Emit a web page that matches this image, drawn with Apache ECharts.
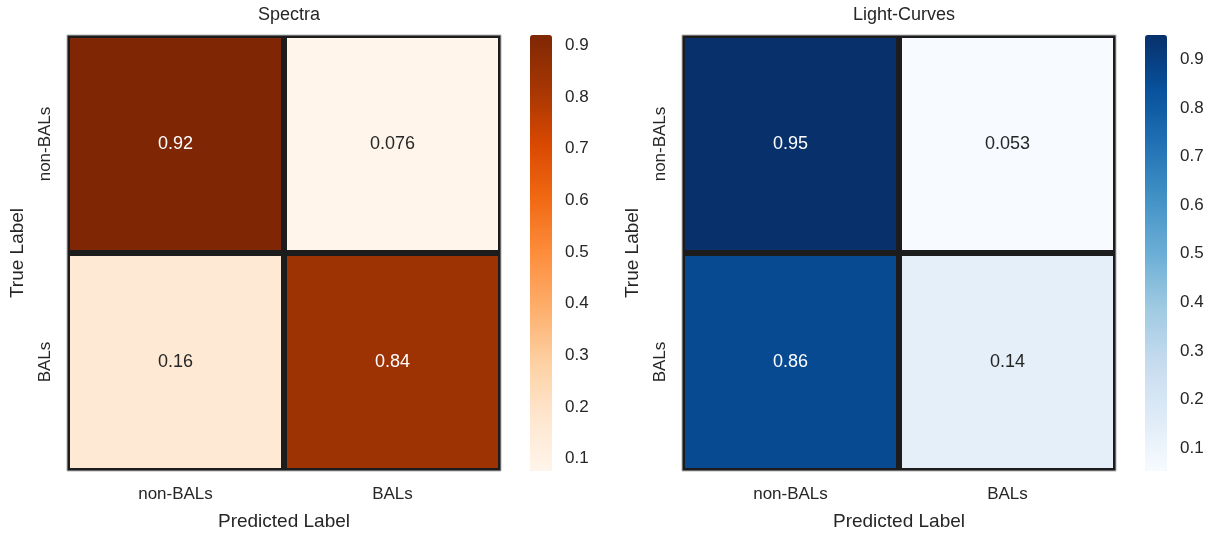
<!DOCTYPE html>
<html>
<head>
<meta charset="utf-8">
<script src="https://cdn.jsdelivr.net/npm/echarts@6/dist/echarts.min.js"></script>
<style>
  html, body { margin: 0; padding: 0; background: #ffffff; }
  #chart { width: 1219px; height: 534px; }
</style>
</head>
<body>
<div id="chart"></div>
<script>
// Confusion matrices (rows: true label, columns: predicted label), normalised per row
const categories = ['non-BALs', 'BALs'];
const spectraValues = [
  [0.92, 0.076],
  [0.16, 0.84]
];
const lightCurveValues = [
  [0.95, 0.053],
  [0.86, 0.14]
];
const spectraRange = [0.076, 0.92];
const lightCurveRange = [0.053, 0.95];
const colorbarTicks = [0.1, 0.2, 0.3, 0.4, 0.5, 0.6, 0.7, 0.8, 0.9];

const orangesRamp = ['#fff5eb', '#fee6ce', '#fdd0a2', '#fdae6b', '#fd8d3c', '#f16913', '#d94801', '#a63603', '#7f2704'];
const bluesRamp = ['#f7fbff', '#deebf7', '#c6dbef', '#9ecae1', '#6baed6', '#4292c6', '#2171b5', '#08519c', '#08306b'];

const TEXT = '#262626';
const FONT = '"Liberation Sans", Arial, sans-serif';
const FS_TICK = 17;
const FS_CELL = 18;
const FS_NAME = 19;
const FS_TITLE = 18;

function toCells(matrix) {
  const out = [];
  matrix.forEach((row, r) => row.forEach((v, c) => out.push([c, r, v])));
  return out;
}

// relative luminance used to pick annotation colour
function luminance(hex) {
  const n = parseInt(hex.slice(1), 16);
  const ch = [(n >> 16) & 255, (n >> 8) & 255, n & 255].map(v => {
    v /= 255;
    return v <= 0.03928 ? v / 12.92 : Math.pow((v + 0.055) / 1.055, 2.4);
  });
  return 0.2126 * ch[0] + 0.7152 * ch[1] + 0.0722 * ch[2];
}

function toHex(c) {
  if (c[0] === '#') return c;
  const m = c.match(/[\d.]+/g).map(Number);
  return '#' + m.slice(0, 3).map(v => Math.round(v).toString(16).padStart(2, '0')).join('');
}

function renderCell(params, api) {
  const center = api.coord([api.value(0), api.value(1)]);
  const size = api.size([1, 1]);
  const inset = 3;
  const fill = api.visual('color');
  const v = api.value(2);
  const textFill = luminance(toHex(fill)) > 0.408 ? TEXT : '#ffffff';
  return {
    type: 'rect',
    shape: {
      x: center[0] - size[0] / 2 + inset,
      y: center[1] - size[1] / 2 + inset,
      width: size[0] - 2 * inset,
      height: size[1] - 2 * inset
    },
    style: { fill: fill },
    textContent: {
      style: { text: String(v), fill: textFill, fontSize: FS_CELL, fontFamily: FONT }
    },
    textConfig: { position: 'inside' }
  };
}

const panels = [
  { title: 'Spectra', left: 67, cbLeft: 530, values: spectraValues, range: spectraRange, ramp: orangesRamp },
  { title: 'Light-Curves', left: 682, cbLeft: 1145, values: lightCurveValues, range: lightCurveRange, ramp: bluesRamp }
];
const TOP = 35, W = 434, H = 436, CBW = 22;

const option = {
  backgroundColor: '#ffffff',
  animation: false,
  title: [],
  grid: [],
  xAxis: [],
  yAxis: [],
  visualMap: [],
  series: []
};

panels.forEach((p, i) => {
  option.title.push({
    text: p.title, left: p.left + W / 2, top: 1, textAlign: 'center',
    textStyle: { color: TEXT, fontSize: FS_TITLE, fontWeight: 'normal', fontFamily: FONT }
  });
  // heatmap grid
  option.grid.push({
    left: p.left, top: TOP, width: W, height: H, outerBoundsMode: 'none',
    show: true, backgroundColor: '#1c1c1c', borderColor: '#b5b5b5', borderWidth: 1
  });
  // colorbar tick grid
  option.grid.push({ left: p.cbLeft, top: TOP, width: CBW, height: H, outerBoundsMode: 'none' });

  const g = i * 2;
  option.xAxis.push({
    type: 'category', data: categories, gridIndex: g,
    name: 'Predicted Label', nameLocation: 'middle', nameGap: 41,
    nameTextStyle: { color: TEXT, fontSize: FS_NAME, fontFamily: FONT },
    axisLine: { show: false }, axisTick: { show: false }, splitLine: { show: false },
    axisLabel: { color: TEXT, fontSize: FS_TICK, fontFamily: FONT, margin: 15 }
  });
  option.yAxis.push({
    type: 'category', data: categories, gridIndex: g, inverse: true,
    name: 'True Label', nameLocation: 'middle', nameGap: 40, nameRotate: 90,
    nameTextStyle: { color: TEXT, fontSize: FS_NAME, fontFamily: FONT },
    axisLine: { show: false }, axisTick: { show: false }, splitLine: { show: false },
    axisLabel: { color: TEXT, fontSize: FS_TICK, fontFamily: FONT, rotate: 90, margin: 13 }
  });
  option.xAxis.push({ type: 'value', gridIndex: g + 1, show: false, min: 0, max: 1 });
  option.yAxis.push({
    type: 'value', gridIndex: g + 1, position: 'right', min: p.range[0], max: p.range[1],
    axisLine: { show: false }, splitLine: { show: false },
    axisTick: { show: true, length: 6, lineStyle: { color: TEXT, width: 1.5 }, customValues: colorbarTicks },
    axisLabel: { color: TEXT, fontSize: FS_TICK, fontFamily: FONT, margin: 13, customValues: colorbarTicks,
      formatter: v => v.toFixed(1) }
  });

  option.visualMap.push({
    type: 'continuous', seriesIndex: i, dimension: 2,
    min: p.range[0], max: p.range[1],
    left: p.cbLeft, top: TOP, itemWidth: CBW, itemHeight: H, padding: 0,
    calculable: false, realtime: false, hoverLink: false,
    text: null, inRange: { color: p.ramp }
  });

  option.series.push({
    type: 'custom', xAxisIndex: g, yAxisIndex: g,
    renderItem: renderCell,
    encode: { x: 0, y: 1 },
    data: toCells(p.values)
  });
});

const chart = echarts.init(document.getElementById('chart'), null, { renderer: 'canvas' });
chart.setOption(option);
</script>
</body>
</html>
